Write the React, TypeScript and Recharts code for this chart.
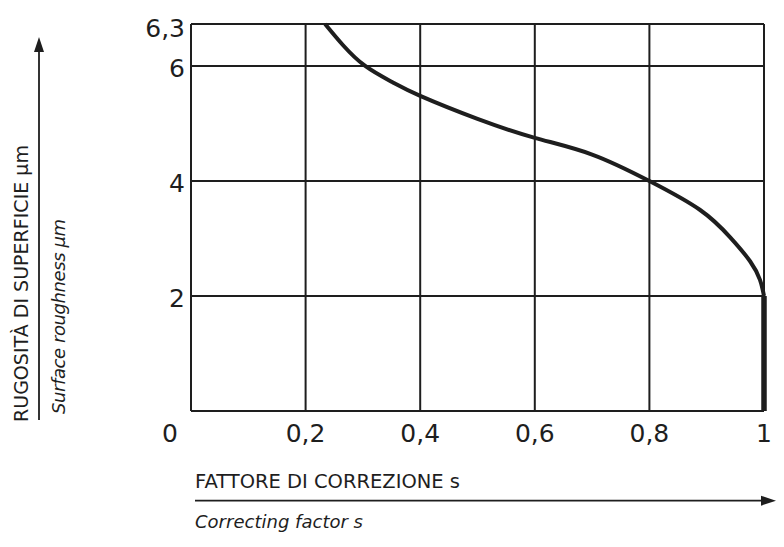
import React from 'react';
import { LineChart, Line, XAxis, YAxis, CartesianGrid } from 'recharts';

// Correcting factor s (x) and surface roughness µm (y)
const FACTOR = [0.234, 0.265, 0.304, 0.351, 0.4, 0.5, 0.6, 0.7, 0.8, 0.888, 0.941, 0.976, 0.993, 1];
const ROUGHNESS = [6.3, 6.15, 6.0, 5.72, 5.48, 5.08, 4.75, 4.46, 4.0, 3.5, 3.02, 2.6, 2.28, 2.0];

// vertical part of the curve at s = 1
const VERTICAL_FACTOR = [1, 1];
const VERTICAL_ROUGHNESS = [2, 0];

const X_TICKS = [0, 0.2, 0.4, 0.6, 0.8, 1];
const X_TICK_LABELS = ['0', '0,2', '0,4', '0,6', '0,8', '1'];
const Y_TICKS_RAW = [0, 2, 4, 6, 6.3];
const Y_TICK_LABELS = ['', '2', '4', '6', '6,3'];

// the top band 6 -> 6,3 is drawn stretched in the original
const Y_BREAK = 6;
const Y_TOP_RAW = 6.3;
const Y_TOP_AXIS = 6.73;
const toAxis = (r: number) => (r <= Y_BREAK ? r : Y_BREAK + ((r - Y_BREAK) * (Y_TOP_AXIS - Y_BREAK)) / (Y_TOP_RAW - Y_BREAK));

const curveData = FACTOR.map((f, i) => ({ x: f, y: toAxis(ROUGHNESS[i]) }));
const verticalData = VERTICAL_FACTOR.map((f, i) => ({ x: f, y: toAxis(VERTICAL_ROUGHNESS[i]) }));
const yTicks = Y_TICKS_RAW.map(toAxis);

const FONT = '"DejaVu Sans", sans-serif';
const INK = '#1e1e1e';

const XTick = (props: any) => {
  const { x, y, payload } = props;
  const idx = X_TICKS.findIndex((t) => Math.abs(t - payload.value) < 1e-6);
  const label = idx >= 0 ? X_TICK_LABELS[idx] : '';
  const dx = payload.value === 0 ? -21 : 0;
  return (
    <text x={x + dx} y={y + 31} textAnchor="middle" fontFamily={FONT} fontSize={25} fill={INK}>
      {label}
    </text>
  );
};

const YTick = (props: any) => {
  const { x, y, payload } = props;
  const idx = yTicks.findIndex((t) => Math.abs(t - payload.value) < 1e-6);
  const label = idx >= 0 ? Y_TICK_LABELS[idx] : '';
  const extra = idx === yTicks.length - 1 ? 2 : 0;
  return (
    <text x={x - 6} y={y + 11 + extra} textAnchor="end" fontFamily={FONT} fontSize={25} fill={INK}>
      {label}
    </text>
  );
};

export default function App() {
  return (
    <div style={{ position: 'absolute', left: 0, top: 0, width: 784, height: 547, background: '#fff' }}>
      <LineChart width={784} height={547} margin={{ top: 24, right: 20, bottom: 106, left: 0 }}>
        <CartesianGrid stroke={INK} strokeWidth={2} fill="#fff" />
        <XAxis
          type="number"
          dataKey="x"
          domain={[0, 1]}
          ticks={X_TICKS}
          height={30}
          axisLine={false}
          tickLine={false}
          tickSize={0}
          tickMargin={0}
          tick={<XTick />}
          interval={0}
        />
        <YAxis
          type="number"
          dataKey="y"
          domain={[0, Y_TOP_AXIS]}
          ticks={yTicks}
          width={191}
          axisLine={false}
          tickLine={false}
          tickSize={0}
          tickMargin={0}
          tick={<YTick />}
          interval={0}
        />
        <Line
          data={curveData}
          dataKey="y"
          type="natural"
          stroke={INK}
          strokeWidth={4}
          dot={false}
          isAnimationActive={false}
        />
        <Line
          data={verticalData}
          dataKey="y"
          type="linear"
          stroke={INK}
          strokeWidth={5.5}
          dot={false}
          isAnimationActive={false}
        />
      </LineChart>
      <svg
        width={784}
        height={547}
        style={{ position: 'absolute', left: 0, top: 0, pointerEvents: 'none' }}
      >
        {/* vertical axis title */}
        <text
          transform="translate(28,422) rotate(-90)"
          fontFamily={FONT}
          fontSize={19}
          fill={INK}
          textLength={277}
        >
          RUGOSITÀ DI SUPERFICIE µm
        </text>
        <line x1={39} y1={420} x2={39} y2={48} stroke={INK} strokeWidth={1.8} />
        <polygon points="39,37 34,52 44,52" fill={INK} />
        <text
          transform="translate(65,414) rotate(-90)"
          fontFamily={FONT}
          fontSize={18}
          fontStyle="italic"
          fill={INK}
          textLength={195}
        >
          Surface roughness µm
        </text>
        {/* horizontal axis title */}
        <text x={195} y={488} fontFamily={FONT} fontSize={19.5} fill={INK} textLength={265}>
          FATTORE DI CORREZIONE s
        </text>
        <line x1={195} y1={500.7} x2={764} y2={500.7} stroke={INK} strokeWidth={1.8} />
        <polygon points="776,500.7 761,495.7 761,505.7" fill={INK} />
        <text
          x={195}
          y={528}
          fontFamily={FONT}
          fontSize={18}
          fontStyle="italic"
          fill={INK}
          textLength={168}
        >
          Correcting factor s
        </text>
      </svg>
    </div>
  );
}
